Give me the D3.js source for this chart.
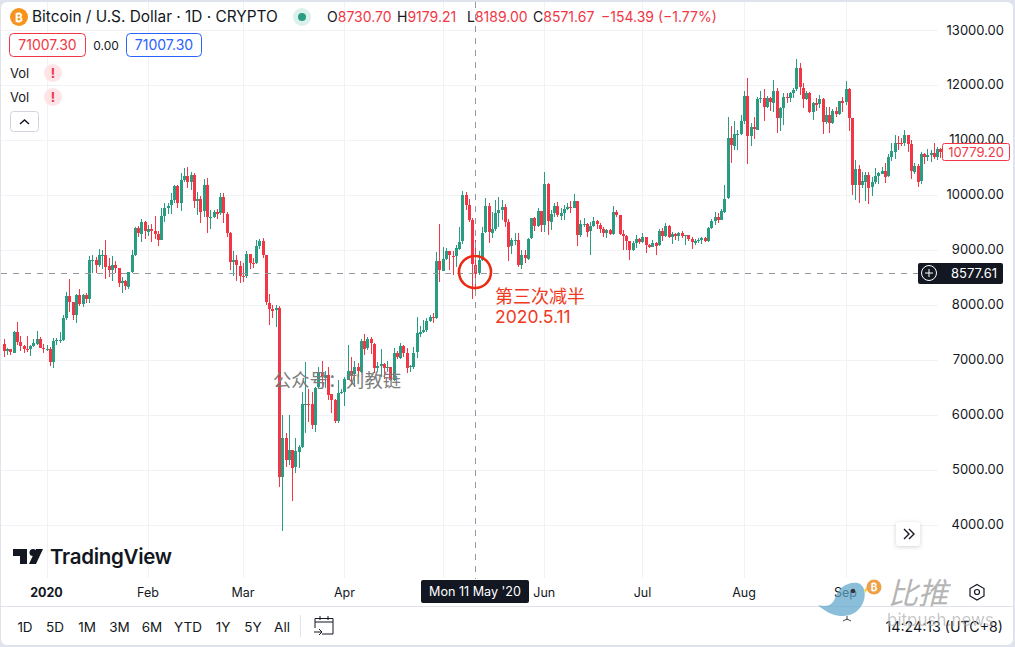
<!DOCTYPE html>
<html><head><meta charset="utf-8">
<script src="https://cdn.jsdelivr.net/npm/d3@7/dist/d3.min.js"></script>
<style>html,body{margin:0;padding:0;background:#e0e3eb;overflow:hidden}svg{display:block}text{font-family:Inter,"Noto Sans CJK SC",sans-serif}</style>
</head><body><svg id="c" width="1015" height="647"></svg>
<script>
const firstOpen = 7285;
const closeDec=[7150,7187,7130,7510,7320,7255,7195,7190,7240,7295,7385,7220,7195];
const highDec=[7376,7220,7190,7520,7685,7430,7270,7430,7270,7370,7520,7420,7290];
const lowDec=[7050,7085,7080,7130,7265,7155,7130,7140,7075,7230,7260,7210,7130];
const closeJan=[7200,6960,7345,7355,7355,7760,8160,8045,7815,8180,8020,8180,8105,8810,8815,8720,8900,8910,8700,8630,8720,8660,8385,8430,8330,8595,8900,9390,9290,9500,9330];
const highJan=[7260,7230,7400,7400,7500,7810,8235,8470,8050,8200,8290,8200,8205,8890,8900,8870,9010,9000,9180,8850,8880,8800,8660,8510,8450,8600,8990,9420,9430,9560,9530];
const lowJan=[7150,6880,6850,7270,7300,7340,7720,7870,7720,7675,7970,7960,8040,8040,8570,8580,8680,8650,8470,8510,8440,8570,8330,8220,8270,8290,8570,8890,9230,9150,9200];
const closeFeb=[9380,9340,9290,9180,9615,9760,9800,9900,10160,9850,10270,10350,10240,10370,9900,9930,9700,10180,9600,9600,9690,9660,9960,9660,9310,8780,8810,8710,8530];
const highFeb=[9450,9470,9610,9350,9760,9860,9860,10025,10180,10180,10400,10490,10500,10420,10400,10060,9980,10280,10300,9720,9720,9740,10030,10040,9680,9330,8985,8900,8800];
const lowFeb=[9250,9150,9200,9070,9170,9500,9650,9660,9850,9760,9710,10230,10130,10090,9760,9630,9480,9600,9310,9380,9580,9560,9630,9490,9230,8630,8520,8440,8400];
const closeMar=[8525,8920,8760,8755,9070,9160,8900,8040,7930,7895,7940,4860,5570,5170,5360,5030,5330,5415,6190,6200,6185,5810,6490,6770,6680,6730,6370,6260,5880,6390,6410];
const highMar=[8765,8980,8925,8845,9180,9190,9210,8905,8190,8000,8000,7975,6000,5660,6000,5360,5570,5450,6420,6950,6460,6405,6500,6860,6980,6800,6860,6360,6290,6630,6460];
const lowMar=[8420,8480,8645,8660,8740,9020,8845,8000,7630,7750,7600,4690,3890,5050,5080,4430,4940,5020,5400,5670,5870,5730,5690,6470,6480,6480,6265,6035,5855,5855,6380];
const closeApr=[6640,6800,6735,6860,6780,7340,7200,7370,7290,6860,6890,6930,6850,6860,6625,7115,7040,7250,7130,6860,6880,7130,7480,7510,7540,7700,7780,7760,8790,8620];
const highApr=[6678,7267,7055,6982,6933,7376,7467,7419,7419,7297,6964,7188,6933,6982,6872,7206,7164,7297,7267,7206,6900,7224,7770,7613,7722,7752,7813,7843,8966,9470];
const lowApr=[6157,6660,6539,6509,6691,6751,7085,7176,7103,6763,6782,6691,6642,6782,6618,6618,7006,7006,7055,6763,6782,6830,7036,7406,7479,7510,7692,7673,7734,8408];
const closeMay=[8830,8970,8890,8880,9030,9150,9990,9810,9540,8730.7,8571.67,8810,9310,9790,9310,9380,9670,9730,9780,9510,9060,9170,9180,8720,8900,8840,9200,9570,9420,9700,9450];
const highMay=[9045,9025,8978,8978,9087,9421,10070,10060,9925,9580,9179.21,8978,9420,9936,9845,9690,9906,9955,9906,9827,9554,9208,9299,9299,8996,8996,9220,9572,9590,9754,9712];
const lowMay=[8614,8815,8632,8541,8693,8996,9100,9730,9510,8098,8189,8541,8800,9300,9130,9210,9350,9420,9542,9421,8802,8923,9087,8693,8650,8753,8814,9196,9342,9421,9330];
const closeJun=[10200,9520,9660,9790,9620,9670,9750,9780,9770,9890,9270,9470,9470,9330,9430,9520,9460,9380,9300,9360,9290,9690,9630,9290,9250,9160,9000,9120,9190,9140];
const highJun=[10410,10209,9724,9845,9876,9754,9815,9845,9894,10015,9894,9542,9572,9481,9512,9590,9542,9493,9421,9372,9372,9797,9724,9633,9360,9269,9166,9166,9269,9208];
const lowJun=[9330,9269,9360,9603,9603,9542,9542,9724,9663,9754,9075,9239,9408,9239,8911,9408,9372,9299,9239,9208,9269,9269,9603,9269,8996,8996,8814,8978,9026,9105];
const closeJul=[9230,9090,9060,9130,9080,9340,9250,9430,9230,9280,9240,9300,9240,9260,9190,9130,9160,9170,9210,9160,9390,9520,9600,9540,9700,9930,11030,10900,11110,11110,11350];
const highJul=[9299,9239,9105,9178,9148,9378,9390,9481,9451,9330,9311,9317,9342,9269,9269,9226,9190,9208,9238,9238,9408,9560,9681,9663,9736,10179,11423,11253,11350,11180,11453];
const lowJul=[9117,8947,9038,9044,8905,9075,9160,9226,9208,9105,9178,9166,9208,9087,9166,9014,9087,9117,9105,9141,9135,9372,9451,9493,9542,9675,9924,10585,10816,10816,11089];
const closeAug=[11800,11070,11230,11190,11750,11770,11600,11760,11680,11890,11400,11580,11780,11770,11860,11910,12300,11950,11750,11860,11520,11680,11650,11750,11330,11460,11320,11530,11470,11710,11680];
const highAug=[11890,12120,11301,11410,11787,11890,11920,11799,11787,12090,11938,11605,11847,11859,11878,11938,12472,12393,12029,11896,11878,11696,11756,11817,11768,11592,11592,11556,11592,11708,11787];
const lowAug=[11289,10561,10889,11016,11180,11665,11350,11574,11532,11514,11131,11162,11271,11665,11696,11768,11896,11817,11574,11726,11483,11362,11532,11574,11107,11289,11119,11289,11423,11453,11514];
const closeSep=[11920,11390,10170,10470,10170,10250,10370,10130,10230,10340,10390,10440,10330,10680,10790,10950,10940,10930,11080,10920,10420,10530,10240,10740,10690,10730,10770,10690,10840,10779.2];
const highSep=[12072,11950,11404,10634,10543,10422,10422,10422,10331,10494,10422,10500,10573,10737,10949,11089,11071,11028,11180,11071,10998,10585,10555,10786,10767,10834,10816,10937,10864,10860];
const lowSep=[11635,11162,9997,9906,9857,10118,9888,9833,9985,10191,10197,10373,10221,10331,10622,10652,10816,10889,10889,10786,10294,10373,10136,10191,10561,10616,10604,10652,10634,10670];

const priceTicks=[13000,12000,11000,10000,9000,8000,7000,6000,5000,4000];
const monthTicks=[["2020","2020-01-01"],["Feb","2020-02-01"],["Mar","2020-03-01"],["Apr","2020-04-01"],["May","2020-05-01"],["Jun","2020-06-01"],["Jul","2020-07-01"],["Aug","2020-08-01"],["Sep","2020-09-01"]];
const rangeButtons=["1D","5D","1M","3M","6M","YTD","1Y","5Y","All"];
const legendOHLC=[["O","8730.70"],["H","9179.21"],["L","8189.00"],["C","8571.67"]];

const closes=[].concat(closeDec,closeJan,closeFeb,closeMar,closeApr,closeMay,closeJun,closeJul,closeAug,closeSep);
const highs=[].concat(highDec,highJan,highFeb,highMar,highApr,highMay,highJun,highJul,highAug,highSep);
const lows=[].concat(lowDec,lowJan,lowFeb,lowMar,lowApr,lowMay,lowJun,lowJul,lowAug,lowSep);
const startDate=new Date(Date.UTC(2019,11,19));
const candles=closes.map((c,i)=>({date:d3.utcDay.offset(startDate,i),o:i?closes[i-1]:firstOpen,c,h:highs[i],l:lows[i]}));

const UP="#2a9c82",DOWN="#f23645",INK="#131722",GRID="#f1f2f5",EDGE="#e0e3eb";
const x=d3.scaleUtc().domain([new Date(Date.UTC(2020,0,1)),new Date(Date.UTC(2020,8,1))]).range([46.5,845.5]);
const y=d3.scaleLinear().domain([4000,13000]).range([524.5,30]);
const svg=d3.select("#c");

svg.append("rect").attr("x",1).attr("y",2).attr("width",1012).attr("height",643).attr("rx",6).attr("fill","#fff");

const grid=svg.append("g").attr("shape-rendering","crispEdges").attr("stroke",GRID);
grid.selectAll("line.h").data(priceTicks).join("line").attr("x1",1).attr("x2",938).attr("y1",d=>Math.round(y(d))+.5).attr("y2",d=>Math.round(y(d))+.5);
grid.selectAll("line.v").data(monthTicks).join("line").attr("x1",d=>Math.round(x(new Date(d[1])))+.5).attr("x2",d=>Math.round(x(new Date(d[1])))+.5).attr("y1",2).attr("y2",578);

const g=svg.append("g").attr("shape-rendering","crispEdges");
const col=d=>d.c>=d.o?UP:DOWN;
const cx=d=>Math.round(x(d.date));
g.selectAll("rect.w").data(candles).join("rect").attr("x",cx).attr("width",1)
  .attr("y",d=>y(d.h)).attr("height",d=>Math.max(1,y(d.l)-y(d.h))).attr("fill",col);
g.selectAll("rect.b").data(candles).join("rect").attr("x",d=>cx(d)-1).attr("width",3)
  .attr("y",d=>Math.round(y(Math.max(d.o,d.c)))).attr("height",d=>Math.max(1,Math.round(Math.abs(y(d.o)-y(d.c))))).attr("fill",col);

const crossDate=new Date(Date.UTC(2020,4,11)),crossPrice=8577.61;
const cross=svg.append("g").attr("stroke","#9598a1").attr("stroke-dasharray","6 6").attr("shape-rendering","crispEdges");
cross.append("line").attr("x1",cx({date:crossDate})+.5).attr("x2",cx({date:crossDate})+.5).attr("y1",2).attr("y2",579);
cross.append("line").attr("x1",1).attr("x2",918).attr("y1",Math.round(y(crossPrice))+.5).attr("y2",Math.round(y(crossPrice))+.5);

svg.append("circle").attr("cx",475).attr("cy",272).attr("r",16).attr("fill","none").attr("stroke","#ea2a12").attr("stroke-width",2.6);
svg.append("text").attr("x",495).attr("y",303).attr("font-size",18).attr("fill","#f0391c").text("第三次减半");
svg.append("text").attr("x",495).attr("y",323).attr("font-size",17.5).attr("fill","#f0391c").text("2020.5.11");

svg.append("text").attr("x",273).attr("y",387).attr("font-size",18.3).attr("fill","#7d7d7d").text("公众号：刘教链");

svg.append("circle").attr("cx",19).attr("cy",17).attr("r",9).attr("fill","#f7931a");
svg.append("text").attr("x",19).attr("y",21.5).attr("text-anchor","middle").attr("font-size",12).attr("font-weight",700).attr("fill","#fff").text("₿");
svg.append("text").attr("x",32).attr("y",22).attr("font-size",15.4).attr("fill",INK).text("Bitcoin / U.S. Dollar · 1D · CRYPTO");
svg.append("circle").attr("cx",302).attr("cy",17).attr("r",9).attr("fill","#daf0ea");
svg.append("circle").attr("cx",302).attr("cy",17).attr("r",4).attr("fill",UP);
const ohlcX=[327,397,467,533];
legendOHLC.forEach((p,i)=>{
  const t=svg.append("text").attr("x",ohlcX[i]).attr("y",22).attr("font-size",14).attr("fill",INK);
  t.append("tspan").text(p[0]);
  t.append("tspan").attr("fill",DOWN).text(p[1]);
});
svg.append("text").attr("x",601).attr("y",22).attr("font-size",14).attr("fill",DOWN).text("−154.39 (−1.77%)");

svg.append("rect").attr("x",9.5).attr("y",33.5).attr("width",76).attr("height",23).attr("rx",4).attr("fill","#fff").attr("stroke",DOWN);
svg.append("text").attr("x",47.5).attr("y",50).attr("text-anchor","middle").attr("font-size",14).attr("fill",DOWN).text("71007.30");
svg.append("text").attr("x",106).attr("y",50).attr("text-anchor","middle").attr("font-size",12).attr("fill",INK).text("0.00");
svg.append("rect").attr("x",126.5).attr("y",33.5).attr("width",75).attr("height",23).attr("rx",4).attr("fill","#fff").attr("stroke","#2962ff");
svg.append("text").attr("x",164).attr("y",50).attr("text-anchor","middle").attr("font-size",14).attr("fill","#2962ff").text("71007.30");
[73,97].forEach(cy=>{
  svg.append("text").attr("x",10).attr("y",cy+5).attr("font-size",13).attr("fill",INK).text("Vol");
  svg.append("circle").attr("cx",53).attr("cy",cy).attr("r",9).attr("fill","#fde4e7");
  svg.append("text").attr("x",53).attr("y",cy+5).attr("text-anchor","middle").attr("font-size",13).attr("font-weight",700).attr("fill",DOWN).text("!");
});
svg.append("rect").attr("x",10.5).attr("y",111.5).attr("width",28).attr("height",20).attr("rx",3).attr("fill","#fff").attr("stroke","#d1d4dc");
svg.append("path").attr("d","M20 124l4.500-4 4.500 4").attr("fill","none").attr("stroke",INK).attr("stroke-width",1.5);

svg.append("g").selectAll("text").data(priceTicks).join("text").attr("x",1004).attr("y",d=>y(d)+4.500).attr("text-anchor","end").attr("font-size",13).attr("fill",INK).text(d=>d3.format(".2f")(d));
const last=candles[candles.length-1];
svg.append("rect").attr("x",942.5).attr("y",Math.round(y(last.c))-8.5).attr("width",67).attr("height",17).attr("rx",2).attr("fill","#fff").attr("stroke",DOWN);
svg.append("text").attr("x",1004).attr("y",y(last.c)+4.500).attr("text-anchor","end").attr("font-size",13).attr("fill",DOWN).text(d3.format(".2f")(last.c));
svg.append("rect").attr("x",918).attr("y",263).attr("width",85).attr("height",21).attr("rx",2).attr("fill","#131722");
svg.append("circle").attr("cx",929).attr("cy",273).attr("r",7.500).attr("fill","none").attr("stroke","#fff");
svg.append("path").attr("d","M925 273h8M929 269v8").attr("stroke","#fff");
svg.append("text").attr("x",997).attr("y",278).attr("text-anchor","end").attr("font-size",13).attr("fill","#fff").text(d3.format(".2f")(crossPrice));

const logo=svg.append("g").attr("fill",INK);
logo.append("path").attr("d","M13 549H27V564H20V556H13Z");
logo.append("circle").attr("cx",33).attr("cy",552.5).attr("r",3.500);
logo.append("path").attr("d","M36 549H43L36 564H29Z");
svg.append("text").attr("x",50).attr("y",564).attr("font-size",20.5).attr("font-weight",600).attr("letter-spacing","-0.3").attr("fill",INK).text("TradingView");

svg.append("rect").attr("x",896).attr("y",522).attr("width",24).attr("height",24).attr("rx",3).attr("fill","#fff").style("filter","drop-shadow(0 1px 2px rgba(0,0,0,.18))");
svg.append("path").attr("d","M904 529l5 5-5 5M909 529l5 5-5 5").attr("fill","none").attr("stroke",INK).attr("stroke-width",1.4);

svg.append("rect").attr("x",1).attr("y",606).attr("width",1012).attr("height",1).attr("fill",EDGE);
svg.append("g").selectAll("text").data(monthTicks.filter(d=>d[0]!=="May")).join("text")
  .attr("x",d=>x(new Date(d[1]))).attr("y",596.5).attr("text-anchor","middle").attr("font-size",12.5)
  .attr("font-weight",d=>d[0]==="2020"?700:400).attr("fill",INK).text(d=>d[0]);
svg.append("rect").attr("x",421).attr("y",580).attr("width",108).attr("height",23).attr("rx",2).attr("fill","#131722");
svg.append("text").attr("x",475).attr("y",596).attr("text-anchor","middle").attr("font-size",12.6).attr("fill","#fff").text("Mon 11 May '20");
svg.append("path").attr("d","M977 584.500l7 4v7.500l-7 4-7-4v-7.500z").attr("fill","none").attr("stroke",INK).attr("stroke-width",1.2);
svg.append("circle").attr("cx",977).attr("cy",592).attr("r",2.500).attr("fill","none").attr("stroke",INK).attr("stroke-width",1.2);

const btnX=[25,55,87,119.5,152,188,223,253,282];
svg.append("g").selectAll("text").data(rangeButtons).join("text").attr("x",(d,i)=>btnX[i]).attr("y",632).attr("text-anchor","middle").attr("font-size",13.5).attr("fill",INK).text(d=>d);
svg.append("rect").attr("x",300).attr("y",615).attr("width",1).attr("height",22).attr("fill",EDGE);
svg.append("path").attr("d","M315 622H333V634H322M315 628V618.500H333V622M320 616V620M328 616V620M314 632H322M319 629l3 3-3 3").attr("fill","none").attr("stroke",INK).attr("stroke-width",1);
svg.append("text").attr("x",1003).attr("y",632).attr("text-anchor","end").attr("font-size",14.2).attr("fill",INK).text("14:24:13 (UTC+8)");

const wm=svg.append("g");
wm.append("path").attr("d","M818 605C828 608 833 604 835 598C838 588 848 581 858 583C864 585 866 592 864 600C861 611 851 617 840 616C832 615 824 611 818 605Z").attr("fill","#5ea5c9").attr("opacity",.72);
wm.append("path").attr("d","M864 590L868 586L866 593Z").attr("fill","#f4d23c");
wm.append("circle").attr("cx",853).attr("cy",591).attr("r",2.200).attr("fill","#333");
wm.append("path").attr("d","M847 616V620M843 621L847 619L851 621").attr("fill","none").attr("stroke","#444");
wm.append("circle").attr("cx",874).attr("cy",587).attr("r",7.500).attr("fill","#eda048");
wm.append("text").attr("x",874).attr("y",591).attr("text-anchor","middle").attr("font-size",10).attr("font-weight",700).attr("fill","#fff").text("₿");
wm.append("text").attr("x",888).attr("y",604).attr("font-size",30).attr("font-style","italic").attr("fill","#b5b5b5").text("比推");
wm.append("text").attr("x",887).attr("y",626).attr("font-size",17).attr("fill","#b0b0b0").attr("opacity",.7).text("bitpush.news");
</script></body></html>
